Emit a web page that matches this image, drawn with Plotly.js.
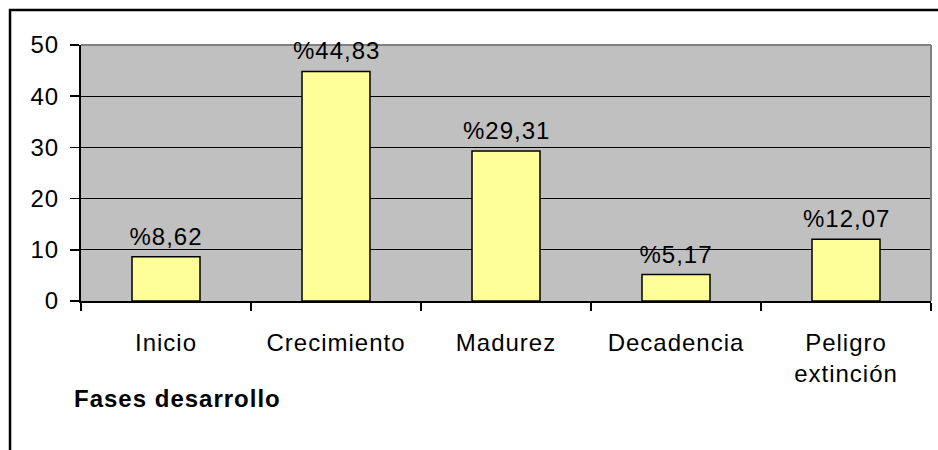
<!DOCTYPE html>
<html>
<head>
<meta charset="utf-8">
<script src="https://cdn.plot.ly/plotly-3.0.1.min.js"></script>
<style>
html,body{margin:0;padding:0;background:#fff;}
#chart{width:938px;height:450px;}
#chart svg text{letter-spacing:1px;}
</style>
</head>
<body>
<div id="chart"></div>
<script>
const categories = ["Inicio", "Crecimiento", "Madurez", "Decadencia", "Peligro<br>extinción"];
const values = [8.62, 44.83, 29.31, 5.17, 12.07];
const labels = ["%8,62", "%44,83", "%29,31", "%5,17", "%12,07"];
const yTicks = [0, 10, 20, 30, 40, 50];
const xTitle = "Fases desarrollo";

const FONT = "Liberation Sans, Arial, sans-serif";

const trace = {
  type: "bar",
  x: categories,
  y: values,
  marker: {color: "#FFFF99", line: {color: "#000", width: 1.5}},
  hoverinfo: "none"
};

const valueAnnotations = categories.map((c, i) => ({
  x: c, y: values[i], xref: "x", yref: "y",
  text: labels[i], showarrow: false,
  xanchor: "center", yanchor: "bottom", yshift: 5,
  font: {family: FONT, size: 24, color: "#000"}
}));

const layout = {
  width: 938, height: 450,
  margin: {l: 81, r: 7, t: 45, b: 149},
  paper_bgcolor: "#fff",
  plot_bgcolor: "#C0C0C0",
  bargap: 0.6,
  showlegend: false,
  font: {family: FONT, size: 24, color: "#000"},
  xaxis: {
    type: "category",
    tickson: "boundaries",
    ticks: "outside", ticklen: 8, tickwidth: 1.5, tickcolor: "#000",
    showline: true, linecolor: "#000", linewidth: 2,
    showgrid: false,
    ticklabelstandoff: 19,
    tickfont: {family: FONT, size: 24, color: "#000"}
  },
  yaxis: {
    range: [0, 50],
    tickvals: yTicks,
    ticks: "outside", ticklen: 9, tickwidth: 1.5, tickcolor: "#000",
    showline: true, linecolor: "#000", linewidth: 2,
    showgrid: true, gridcolor: "#000", gridwidth: 1.2,
    zeroline: false,
    ticklabelstandoff: 6,
    tickfont: {family: FONT, size: 24, color: "#000"}
  },
  shapes: [
    {type: "line", xref: "paper", yref: "paper", x0: 0, x1: 1, y0: 1, y1: 1, line: {color: "#808080", width: 2}},
    {type: "line", xref: "paper", yref: "paper", x0: 1, x1: 1, y0: 0, y1: 1, line: {color: "#808080", width: 2}},
    {type: "rect", xref: "paper", yref: "paper", x0: -0.0835, x1: 1.2, y0: -1, y1: 1.1367, line: {color: "#000", width: 2.5}, fillcolor: "rgba(0,0,0,0)"}
  ],
  annotations: valueAnnotations.concat([
    {text: "<b>" + xTitle + "</b>", xref: "paper", yref: "paper", x: -0.0012, y: -0.379,
     xanchor: "left", yanchor: "middle", showarrow: false,
     font: {family: FONT, size: 24, color: "#000"}}
  ])
};

Plotly.newPlot("chart", [trace], layout, {displayModeBar: false, staticPlot: true});
</script>
</body>
</html>
